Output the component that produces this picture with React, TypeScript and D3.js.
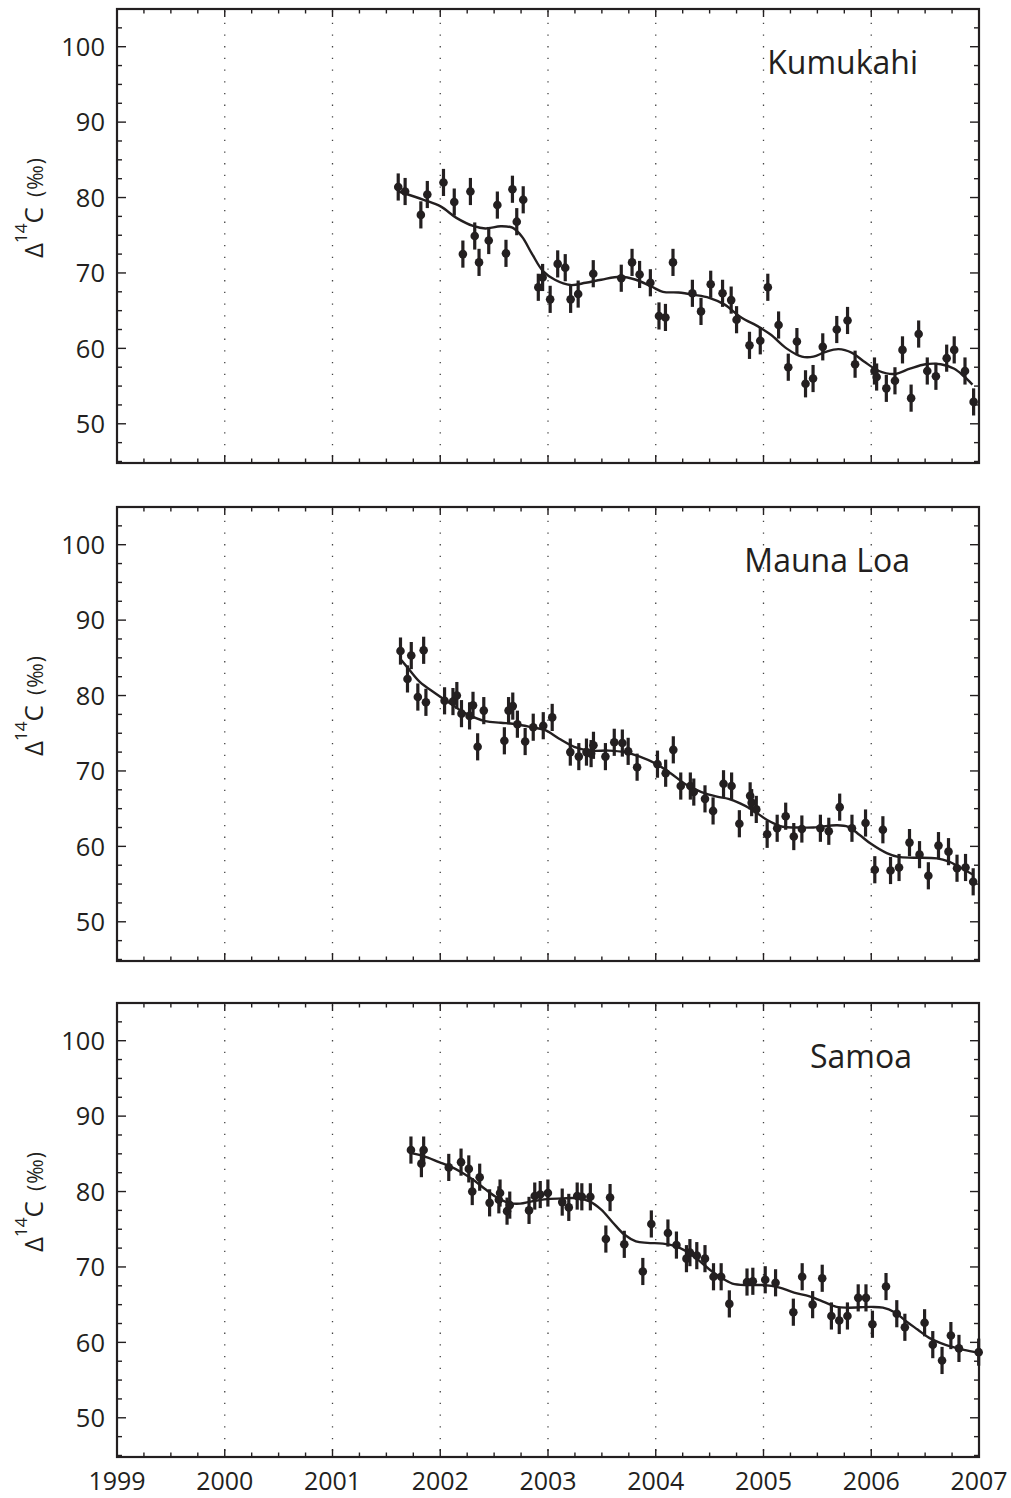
import React from "react";
import * as d3 from "d3";

// ---------- DATA ----------
const STATIONS = ["Kumukahi", "Mauna Loa", "Samoa"];
const YEAR_TICKS = [1999, 2000, 2001, 2002, 2003, 2004, 2005, 2006, 2007];
const GRID_YEARS = [2000, 2001, 2002, 2003, 2004, 2005, 2006];
const Y_TICK_LABELS = [50, 60, 70, 80, 90, 100];
const ERR = 1.8; // error bar half-length (‰)

const kumukahiObs: [number, number][] = [
  [2001.61, 81.4], [2001.674, 80.8], [2001.82, 77.7], [2001.88, 80.4], [2002.03, 82.0],
  [2002.13, 79.4], [2002.21, 72.5], [2002.28, 80.8], [2002.32, 74.9], [2002.36, 71.4],
  [2002.45, 74.3], [2002.53, 79.0], [2002.61, 72.6], [2002.67, 81.1], [2002.71, 76.8],
  [2002.77, 79.7], [2002.91, 68.1], [2002.95, 69.4], [2003.02, 66.5], [2003.09, 71.2],
  [2003.16, 70.7], [2003.21, 66.5], [2003.28, 67.2], [2003.42, 69.9], [2003.68, 69.3],
  [2003.78, 71.4], [2003.85, 69.8], [2003.95, 68.7], [2004.03, 64.3], [2004.09, 64.1],
  [2004.16, 71.4], [2004.34, 67.3], [2004.42, 64.9], [2004.51, 68.5], [2004.62, 67.3],
  [2004.70, 66.4], [2004.75, 63.8], [2004.87, 60.4], [2004.97, 61.0], [2005.04, 68.1],
  [2005.14, 63.1], [2005.23, 57.5], [2005.31, 60.9], [2005.39, 55.3], [2005.46, 56.0],
  [2005.55, 60.2], [2005.68, 62.5], [2005.78, 63.7], [2005.85, 57.9], [2006.03, 57.0],
  [2006.05, 56.2], [2006.14, 54.7], [2006.22, 55.7], [2006.29, 59.8], [2006.37, 53.4],
  [2006.44, 61.9], [2006.52, 57.0], [2006.60, 56.3], [2006.70, 58.7], [2006.77, 59.8],
  [2006.87, 57.0], [2006.95, 52.9],
];

const kumukahiFit: [number, number][] = [
  [2001.613, 80.8], [2001.846, 79.7], [2002.007, 78.8], [2002.15, 77.3], [2002.312, 76.2],
  [2002.419, 75.9], [2002.562, 76.2], [2002.67, 76.0], [2002.759, 74.8], [2002.849, 72.6],
  [2002.956, 70.2], [2003.064, 69.1], [2003.207, 68.4], [2003.35, 68.7], [2003.494, 69.1],
  [2003.673, 69.5], [2003.816, 69.1], [2003.959, 68.2], [2004.067, 67.5], [2004.21, 67.4],
  [2004.353, 67.1], [2004.496, 66.7], [2004.64, 65.8], [2004.783, 64.2], [2004.962, 62.8],
  [2005.069, 61.8], [2005.213, 60.0], [2005.356, 58.9], [2005.463, 58.9], [2005.571, 59.5],
  [2005.696, 59.9], [2005.822, 59.4], [2005.929, 58.3], [2006.072, 57.0], [2006.216, 56.6],
  [2006.359, 57.3], [2006.502, 57.9], [2006.645, 57.9], [2006.771, 57.3], [2006.86, 56.3],
  [2006.939, 55.2],
];

const maunaLoaObs: [number, number][] = [
  [2001.631, 85.9], [2001.696, 82.2], [2001.731, 85.3], [2001.792, 79.8], [2001.846, 86.0],
  [2001.867, 79.1], [2002.04, 79.3], [2002.118, 79.2], [2002.154, 80.0], [2002.197, 77.6],
  [2002.272, 77.3], [2002.304, 78.7], [2002.347, 73.2], [2002.404, 78.0], [2002.595, 74.0],
  [2002.634, 78.0], [2002.673, 78.6], [2002.716, 76.2], [2002.788, 73.9], [2002.863, 75.8],
  [2002.956, 76.0], [2003.039, 77.1], [2003.207, 72.5], [2003.286, 71.9], [2003.357, 72.5],
  [2003.40, 72.3], [2003.422, 73.4], [2003.533, 71.9], [2003.615, 73.8], [2003.69, 73.7],
  [2003.744, 72.6], [2003.827, 70.5], [2004.016, 70.9], [2004.092, 69.7], [2004.163, 72.8],
  [2004.232, 68.0], [2004.321, 68.0], [2004.353, 67.2], [2004.457, 66.3], [2004.532, 64.7],
  [2004.629, 68.3], [2004.704, 68.0], [2004.776, 63.0], [2004.876, 66.7], [2004.89, 65.8],
  [2004.933, 64.9], [2005.034, 61.6], [2005.127, 62.4], [2005.206, 64.0], [2005.281, 61.3],
  [2005.356, 62.3], [2005.528, 62.4], [2005.606, 62.0], [2005.707, 65.2], [2005.821, 62.4],
  [2005.947, 63.1], [2006.033, 56.9], [2006.108, 62.2], [2006.179, 56.8], [2006.258, 57.2],
  [2006.355, 60.5], [2006.448, 58.9], [2006.53, 56.1], [2006.624, 60.1], [2006.717, 59.3],
  [2006.796, 57.1], [2006.875, 57.2], [2006.946, 55.3],
];

const maunaLoaFit: [number, number][] = [
  [2001.638, 84.7], [2001.703, 83.6], [2001.81, 81.8], [2001.953, 80.3], [2002.097, 78.9],
  [2002.24, 77.6], [2002.419, 76.6], [2002.562, 76.4], [2002.706, 76.2], [2002.849, 75.8],
  [2002.974, 75.4], [2003.1, 74.3], [2003.243, 73.2], [2003.386, 72.7], [2003.565, 72.7],
  [2003.708, 72.5], [2003.852, 71.9], [2003.995, 71.0], [2004.138, 69.7], [2004.281, 68.2],
  [2004.425, 67.2], [2004.568, 66.6], [2004.675, 66.3], [2004.783, 65.7], [2004.89, 64.9],
  [2005.034, 63.5], [2005.177, 62.6], [2005.32, 62.5], [2005.463, 62.5], [2005.678, 62.8],
  [2005.786, 62.6], [2005.893, 61.5], [2006.001, 60.3], [2006.144, 59.1], [2006.251, 58.6],
  [2006.395, 58.5], [2006.61, 58.4], [2006.717, 58.0], [2006.825, 57.2], [2006.95, 56.2],
];

const samoaObs: [number, number][] = [
  [2001.728, 85.5], [2001.825, 83.7], [2001.846, 85.5], [2002.079, 83.2], [2002.193, 83.9],
  [2002.265, 83.0], [2002.297, 80.0], [2002.366, 81.9], [2002.458, 78.5], [2002.544, 78.9],
  [2002.555, 79.8], [2002.62, 77.4], [2002.645, 78.2], [2002.824, 77.5], [2002.877, 79.4],
  [2002.928, 79.6], [2002.999, 79.8], [2003.132, 78.6], [2003.193, 77.9], [2003.271, 79.4],
  [2003.314, 79.3], [2003.393, 79.3], [2003.537, 73.7], [2003.576, 79.2], [2003.708, 73.0],
  [2003.88, 69.4], [2003.959, 75.7], [2004.113, 74.5], [2004.192, 72.9], [2004.285, 71.1],
  [2004.317, 71.9], [2004.381, 71.5], [2004.457, 71.1], [2004.536, 68.7], [2004.607, 68.7],
  [2004.683, 65.1], [2004.847, 68.0], [2004.901, 68.1], [2005.016, 68.3], [2005.112, 67.9],
  [2005.277, 64.0], [2005.359, 68.7], [2005.456, 65.0], [2005.545, 68.5], [2005.63, 63.5],
  [2005.703, 62.9], [2005.779, 63.5], [2005.879, 65.9], [2005.951, 65.9], [2006.011, 62.4],
  [2006.137, 67.4], [2006.237, 63.8], [2006.312, 62.0], [2006.495, 62.6], [2006.571, 59.7],
  [2006.657, 57.6], [2006.739, 60.9], [2006.814, 59.2], [2006.997, 58.7],
];

const samoaFit: [number, number][] = [
  [2001.728, 85.1], [2001.846, 84.7], [2001.989, 83.9], [2002.097, 83.3], [2002.204, 82.5],
  [2002.312, 81.5], [2002.419, 80.3], [2002.527, 79.2], [2002.634, 78.5], [2002.741, 78.4],
  [2002.849, 78.7], [2002.992, 79.0], [2003.135, 79.1], [2003.279, 79.1], [2003.386, 78.7],
  [2003.494, 77.6], [2003.601, 75.9], [2003.708, 74.3], [2003.816, 73.4], [2003.923, 73.2],
  [2004.067, 73.1], [2004.174, 72.8], [2004.282, 72.1], [2004.389, 71.0], [2004.496, 69.7],
  [2004.604, 68.6], [2004.711, 67.8], [2004.855, 67.6], [2004.998, 67.6], [2005.141, 67.3],
  [2005.284, 66.6], [2005.428, 66.1], [2005.571, 65.3], [2005.678, 64.7], [2005.786, 64.6],
  [2006.001, 64.7], [2006.108, 64.6], [2006.216, 64.0], [2006.323, 62.8], [2006.43, 61.7],
  [2006.538, 60.6], [2006.645, 59.9], [2006.753, 59.4], [2006.86, 59.0], [2006.996, 58.6],
];

const OBS = [kumukahiObs, maunaLoaObs, samoaObs];
const FITS = [kumukahiFit, maunaLoaFit, samoaFit];

// ---------- LAYOUT ----------
const W = 1011;
const H = 1498;
const LEFT = 117;
const RIGHT = 979;
const PANEL_TOPS = [9, 507, 1003];
const PANEL_H = 454;
const LABEL_X = [918, 910, 912];
const INK = "#231f20";
const FONT = "'Open Sans', 'Noto Sans', sans-serif";

const x = d3.scaleLinear().domain([1999, 2007]).range([LEFT, RIGHT]);

function Panel({ idx }: { idx: number }) {
  const top = PANEL_TOPS[idx];
  const bottom = top + PANEL_H;
  const y = d3.scaleLinear().domain([44.8, 105]).range([bottom, top]);
  const line = d3
    .line<[number, number]>()
    .x((d) => x(d[0]))
    .y((d) => y(d[1]))
    .curve(d3.curveCatmullRom.alpha(0.5));

  const xTicks = d3.range(1999, 2007.001, 0.25);
  const yTicks = d3.range(45, 105.001, 2.5);
  const isMajorX = (v: number) => Math.abs(v - Math.round(v)) < 1e-6;
  const isMajorY = (v: number) => Math.abs(v / 10 - Math.round(v / 10)) < 1e-6;
  const labelCenter = top + 198.5;

  return (
    <g>
      {GRID_YEARS.map((yr) => (
        <line
          key={"g" + yr}
          x1={x(yr)}
          x2={x(yr)}
          y1={top + 2}
          y2={bottom - 2}
          stroke="#444"
          strokeWidth={1.3}
          strokeDasharray="1.3 10.4"
        />
      ))}
      {xTicks.map((v) => {
        const len = isMajorX(v) ? 8 : 4.5;
        return (
          <g key={"xt" + v}>
            <line x1={x(v)} x2={x(v)} y1={bottom} y2={bottom - len} stroke={INK} strokeWidth={1.4} />
            <line x1={x(v)} x2={x(v)} y1={top} y2={top + len} stroke={INK} strokeWidth={1.4} />
          </g>
        );
      })}
      {yTicks.map((v) => {
        const len = isMajorY(v) ? 9 : 5;
        return (
          <g key={"yt" + v}>
            <line x1={LEFT} x2={LEFT + len} y1={y(v)} y2={y(v)} stroke={INK} strokeWidth={1.4} />
            <line x1={RIGHT} x2={RIGHT - len} y1={y(v)} y2={y(v)} stroke={INK} strokeWidth={1.4} />
          </g>
        );
      })}
      {Y_TICK_LABELS.map((v) => (
        <text
          key={"yl" + v}
          x={105}
          y={y(v)}
          dy="0.36em"
          textAnchor="end"
          fontSize={25.5}
          fontFamily={FONT}
          fill={INK}
        >
          {v}
        </text>
      ))}
      <text
        transform={`translate(43, ${labelCenter}) rotate(-90)`}
        textAnchor="middle"
        fontFamily={FONT}
        fill={INK}
        fontSize={26}
      >
        <tspan>Δ</tspan>
        <tspan fontSize={17} dy={-16}>14</tspan>
        <tspan dy={16}>C</tspan>
        <tspan fontSize={21} dx={10} letterSpacing={1}>(‰)</tspan>
      </text>
      <text
        x={LABEL_X[idx]}
        y={top + 65}
        textAnchor="end"
        fontSize={32}
        fontFamily={FONT}
        fill={INK}
      >
        {STATIONS[idx]}
      </text>
      <path d={line(FITS[idx]) || ""} fill="none" stroke={INK} strokeWidth={2.4} />
      {OBS[idx].map((d, i) => (
        <g key={"p" + i}>
          <line
            x1={x(d[0])}
            x2={x(d[0])}
            y1={y(d[1] - ERR)}
            y2={y(d[1] + ERR)}
            stroke={INK}
            strokeWidth={3.2}
          />
          <circle cx={x(d[0])} cy={y(d[1])} r={4.3} fill={INK} />
        </g>
      ))}
      <rect
        x={LEFT}
        y={top}
        width={RIGHT - LEFT}
        height={PANEL_H}
        fill="none"
        stroke={INK}
        strokeWidth={2.2}
      />
    </g>
  );
}

export default function App() {
  return (
    <svg
      width={W}
      height={H}
      viewBox={`0 0 ${W} ${H}`}
      style={{ position: "absolute", left: 0, top: 0, background: "#fff" }}
    >
      <rect x={0} y={0} width={W} height={H} fill="#fff" />
      {STATIONS.map((_, i) => (
        <Panel key={i} idx={i} />
      ))}
      {YEAR_TICKS.map((yr) => (
        <text
          key={"yr" + yr}
          x={x(yr)}
          y={1490}
          textAnchor="middle"
          fontSize={25}
          fontFamily={FONT}
          fill={INK}
        >
          {yr}
        </text>
      ))}
    </svg>
  );
}
